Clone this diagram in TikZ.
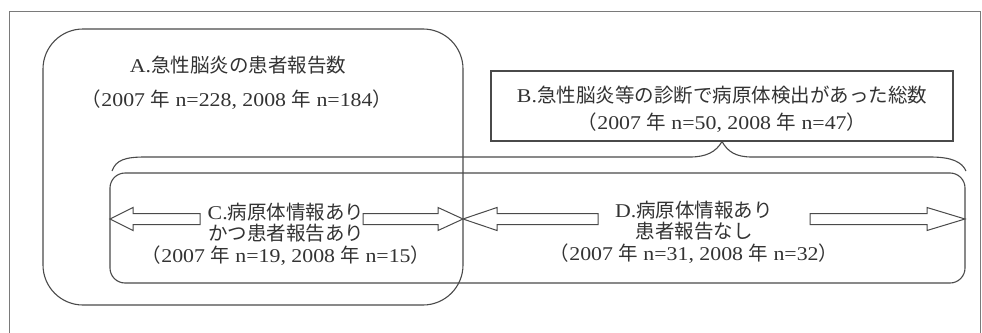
\documentclass[tikz,border=0pt]{standalone}
\usepackage{fontspec}
\setmainfont[FakeStretch=1.12]{Liberation Serif}
\newfontfamily\jp{Noto Sans CJK JP}
\definecolor{lncol}{HTML}{4A4A4A}
\definecolor{txtcol}{HTML}{333333}
\definecolor{framecol}{HTML}{7A7A7A}
\tikzset{
  ln/.style={draw=lncol, line width=1.1pt},
  boxA/.style={ln, rounded corners=40pt, minimum width=420pt, minimum height=276pt, inner sep=0pt},
  boxB/.style={ln, minimum width=462pt, minimum height=70pt, inner sep=0pt},
  boxCD/.style={ln, rounded corners=15pt, minimum width=855pt, minimum height=110pt, inner sep=0pt},
  lbl/.style={text=txtcol, font=\fontsize{19.5}{21.5}\selectfont, align=center, inner sep=0pt},
  harrow/.style={ln, line width=1pt, fill=white},
}
\newcommand\J[1]{{\jp #1}}
\begin{document}
\begin{tikzpicture}[x=1pt,y=-1pt]
\useasboundingbox[fill=white] (0,0) rectangle (982,332);
% outer frame
\draw[framecol, line width=1pt] (9,345) -- (9,11) -- (980,11) -- (980,345);
% boxes
\node[boxA] (A) at (253,167) {};
\node[boxCD] (CD) at (537.5,228) {};
\node[boxB] (B) at (722,106) {};
% labels
\node[lbl] (Al1) at (238,65) {A.\J{急性脳炎の患者報告数}};
\node[lbl] (Al2) at (237,100) {\J{（}2007 \J{年} n=228, 2008 \J{年} n=184\J{）}};
\node[lbl] (Bl1) at (722,95) {B.\J{急性脳炎等の診断で病原体検出があった総数}};
\node[lbl] (Bl2) at (722,123) {\J{（}2007 \J{年} n=50, 2008 \J{年} n=47\J{）}};
\node[lbl] (Cl) at (286,234) {C.\J{病原体情報あり}\\\J{かつ患者報告あり}\\\J{（}2007 \J{年} n=19, 2008 \J{年} n=15\J{）}};
\node[lbl] (Dl) at (694,232) {D.\J{病原体情報あり}\\\J{患者報告なし}\\\J{（}2007 \J{年} n=31, 2008 \J{年} n=32\J{）}};
% brace
\draw[ln] (112,171) .. controls (116,160) and (125,157) .. (145,157) -- (690,157)
  .. controls (706,157) and (716,152) .. (B.south)
  .. controls (728,152) and (736,157) .. (752,157) -- (930,157)
  .. controls (952,157) and (962,162) .. (966,171);
% hollow arrows
\coordinate (Ctip) at (110,219);
\coordinate (Mid) at (463,219);
\coordinate (Dtip) at (965,219);
\draw[harrow] (200,213.5) -- (133,213.5) -- (133,207.5) -- (Ctip) -- (133,230.5) -- (133,224.5) -- (200,224.5) -- cycle;
\draw[harrow] (363,213.5) -- (438,213.5) -- (438,207.5) -- (Mid) -- (438,230.5) -- (438,224.5) -- (363,224.5) -- cycle;
\draw[harrow] (598,213.5) -- (497,213.5) -- (497,207.5) -- (Mid) -- (497,230.5) -- (497,224.5) -- (598,224.5) -- cycle;
\draw[harrow] (810,213.5) -- (927,213.5) -- (927,207.5) -- (Dtip) -- (927,230.5) -- (927,224.5) -- (810,224.5) -- cycle;
\end{tikzpicture}
\end{document}
